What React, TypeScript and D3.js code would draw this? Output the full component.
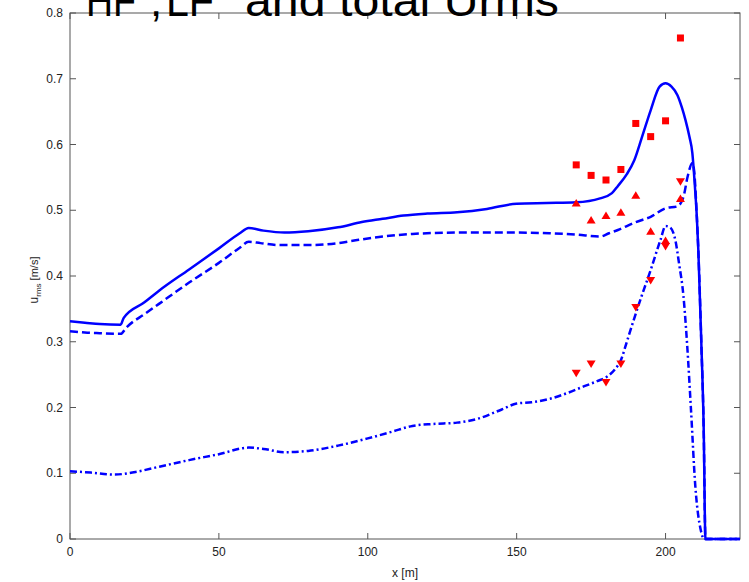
import React from "react";
import * as d3 from "d3";

// total u_rms along the profile
const totalX = [0, 5, 10, 17, 18, 25, 30, 40, 50, 57, 60, 65, 72, 80, 90, 98, 105, 112, 120, 130, 140, 150, 160, 170, 178, 182, 184, 187, 189.5, 192, 195, 198, 200, 202, 204, 205.5, 206.7, 208, 209, 209.8, 210.5, 211, 212, 212.8, 213.4, 225];
const totalY = [0.331, 0.329, 0.327, 0.326, 0.336, 0.36, 0.378, 0.41, 0.442, 0.465, 0.473, 0.469, 0.466, 0.468, 0.474, 0.482, 0.487, 0.492, 0.495, 0.497, 0.502, 0.51, 0.511, 0.512, 0.518, 0.526, 0.537, 0.555, 0.576, 0.61, 0.652, 0.688, 0.693, 0.688, 0.675, 0.656, 0.637, 0.612, 0.587, 0.54, 0.49, 0.44, 0.3, 0.17, 0, 0];

// low-frequency component
const lfX = [0, 5, 10, 17, 19, 25, 30, 40, 50, 57, 60, 64, 70, 80, 90, 97, 105, 115, 130, 150, 161, 170, 178, 181, 184, 190, 195, 200, 204, 206, 207.4, 209, 209.6, 210.4, 211, 212, 212.8, 213.4, 225];
const lfY = [0.316, 0.314, 0.313, 0.312, 0.322, 0.342, 0.358, 0.39, 0.42, 0.443, 0.452, 0.45, 0.447, 0.447, 0.45, 0.455, 0.46, 0.464, 0.466, 0.466, 0.465, 0.463, 0.46, 0.465, 0.47, 0.482, 0.49, 0.503, 0.506, 0.52, 0.551, 0.572, 0.56, 0.5, 0.44, 0.3, 0.17, 0, 0];

// high-frequency component
const hfX = [0, 7, 15, 22, 30, 40, 50, 60, 65, 72, 80, 90, 100, 108, 115, 122, 130, 137, 145, 150, 155, 161, 167, 172.5, 177, 180.4, 183, 185, 187, 189.3, 192, 195, 198.3, 200, 201.5, 203.4, 204.5, 206, 207.3, 208.5, 210, 211.8, 213, 225];
const hfY = [0.103, 0.101, 0.098, 0.102, 0.11, 0.12, 0.129, 0.139, 0.137, 0.132, 0.134, 0.142, 0.153, 0.163, 0.172, 0.175, 0.177, 0.183, 0.197, 0.206, 0.208, 0.213, 0.222, 0.232, 0.24, 0.247, 0.258, 0.272, 0.3, 0.333, 0.37, 0.409, 0.455, 0.476, 0.474, 0.452, 0.42, 0.37, 0.292, 0.2, 0.08, 0.014, 0, 0];

// measured values
const measX = [170, 175, 180, 185, 190, 195, 200, 205];
const measTotal = [0.569, 0.553, 0.546, 0.562, 0.632, 0.612, 0.636, 0.762];
const measLF = [0.511, 0.485, 0.492, 0.497, 0.523, 0.468, 0.454, 0.518];
const measHF = [0.252, 0.266, 0.238, 0.266, 0.352, 0.393, 0.445, 0.5435];

const xTicks = [0, 50, 100, 150, 200];
const yTicks = [0, 0.1, 0.2, 0.3, 0.4, 0.5, 0.6, 0.7, 0.8];

const W = 749;
const H = 582;
const L = 70, R = 740, T = 13, B = 539;

export default function App() {
  const x = d3.scaleLinear().domain([0, 225]).range([L, R]);
  const y = d3.scaleLinear().domain([0, 0.8]).range([B, T]);
  const line = d3
    .line<[number, number]>()
    .x((d) => x(d[0]))
    .y((d) => y(d[1]))
    .curve(d3.curveMonotoneX);
  const zip = (xs: number[], ys: number[]) => xs.map((v, i) => [v, ys[i]] as [number, number]);

  const blue = "#0000ff";
  const red = "#ff0000";
  const axisColor = "#555";
  const font = "Liberation Sans, Arial, sans-serif";

  return (
    <svg width={W} height={H} style={{ position: "absolute", left: 0, top: 0, background: "#fff" }}>
      <rect x={0} y={0} width={W} height={H} fill="#fff" />
      {/* plot box */}
      <rect x={L} y={T} width={R - L} height={B - T} fill="none" stroke={axisColor} strokeWidth={1} />
      {xTicks.map((t) => (
        <g key={"xt" + t}>
          <line x1={x(t)} x2={x(t)} y1={B} y2={B - 6} stroke={axisColor} />
          <line x1={x(t)} x2={x(t)} y1={T} y2={T + 6} stroke={axisColor} />
          <text x={x(t)} y={556} fontSize={12} fontFamily={font} textAnchor="middle" fill="#222">
            {t}
          </text>
        </g>
      ))}
      {yTicks.map((t) => (
        <g key={"yt" + t}>
          <line x1={L} x2={L + 6} y1={y(t)} y2={y(t)} stroke={axisColor} />
          <line x1={R} x2={R - 6} y1={y(t)} y2={y(t)} stroke={axisColor} />
          <text x={63} y={y(t) + 4} fontSize={12} fontFamily={font} textAnchor="end" fill="#222">
            {t === 0 ? "0" : d3.format(".1f")(t)}
          </text>
        </g>
      ))}
      <text x={405} y={577} fontSize={12} fontFamily={font} textAnchor="middle" fill="#222">
        x [m]
      </text>
      <text transform="translate(38,280) rotate(-90)" fontSize={12} fontFamily={font} textAnchor="middle" fill="#222">
        u<tspan fontSize={8} dy={3}>rms</tspan>
        <tspan fontSize={11} dy={-3}> [m/s]</tspan>
      </text>

      {/* curves */}
      <path d={line(zip(lfX, lfY)) || ""} fill="none" stroke={blue} strokeWidth={2.5} strokeDasharray="8,4" />
      <path d={line(zip(hfX, hfY)) || ""} fill="none" stroke={blue} strokeWidth={2.5} strokeDasharray="7,3,2,3" />
      <path d={line(zip(totalX, totalY)) || ""} fill="none" stroke={blue} strokeWidth={2.5} />

      {/* measurements */}
      {measX.map((v, i) => (
        <rect key={"s" + i} x={x(v) - 3.5} y={y(measTotal[i]) - 3.5} width={7} height={7} fill={red} />
      ))}
      {measX.map((v, i) => {
        const cx = x(v), cy = y(measLF[i]);
        return <path key={"u" + i} d={`M${cx},${cy - 4}L${cx + 4.5},${cy + 3.5}L${cx - 4.5},${cy + 3.5}Z`} fill={red} />;
      })}
      {measX.map((v, i) => {
        const cx = x(v), cy = y(measHF[i]);
        return <path key={"d" + i} d={`M${cx},${cy + 4}L${cx + 4.5},${cy - 3.5}L${cx - 4.5},${cy - 3.5}Z`} fill={red} />;
      })}

      {/* title, partly above the page edge */}
      <g fontFamily={font} fontSize={44} fill="#000">
        <text x={86} y={16} textLength={50} lengthAdjust="spacingAndGlyphs">HF</text>
        <text x={150} y={16}>,</text>
        <text x={166} y={16} textLength={48} lengthAdjust="spacingAndGlyphs">LF</text>
        <text x={245} y={16} textLength={314} lengthAdjust="spacingAndGlyphs">and total Urms</text>
      </g>
    </svg>
  );
}
